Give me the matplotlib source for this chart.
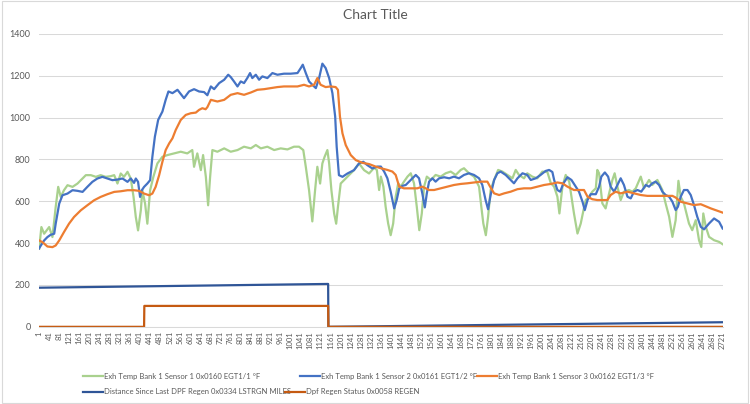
import numpy as np
from matplotlib import pyplot as plt
from matplotlib.lines import Line2D
from matplotlib.patches import Rectangle

plt.rcParams['font.family'] = ['Lato', 'DejaVu Sans']

# sample number (category) and values
egt1_x = [1, 10, 21, 31, 41, 54, 67, 77, 87, 100, 114, 134, 154, 174, 187, 207, 227, 246, 266, 286,
          300, 313, 326, 339, 353, 366, 377, 386, 395, 406, 412, 423, 432, 443, 456, 472, 492, 512, 538, 565,
          591, 611, 618, 631, 645, 654, 665, 674, 682, 691, 711, 738, 764, 791, 817, 844, 864, 884, 910, 937,
          963, 990, 1016, 1036, 1053, 1063, 1076, 1089, 1100, 1109, 1120, 1129, 1138, 1149, 1156, 1165, 1176, 1184, 1191, 1202,
          1215, 1235, 1255, 1275, 1295, 1315, 1335, 1346, 1355, 1362, 1372, 1381, 1391, 1401, 1411, 1421, 1431, 1441, 1454, 1468,
          1481, 1494, 1505, 1515, 1525, 1534, 1545, 1561, 1580, 1600, 1620, 1640, 1660, 1680, 1693, 1713, 1733, 1753, 1762, 1770,
          1780, 1789, 1799, 1813, 1829, 1846, 1866, 1886, 1899, 1912, 1932, 1945, 1965, 1985, 2005, 2025, 2039, 2052, 2065, 2073,
          2085, 2098, 2112, 2121, 2131, 2145, 2158, 2169, 2178, 2191, 2204, 2218, 2224, 2231, 2244, 2257, 2271, 2284, 2293, 2304,
          2317, 2330, 2350, 2364, 2377, 2397, 2410, 2430, 2443, 2463, 2483, 2496, 2510, 2523, 2536, 2547, 2556, 2569, 2589, 2602,
          2616, 2629, 2638, 2646, 2656, 2669, 2689, 2709, 2723]
egt1_y = [373, 477, 445, 461, 477, 429, 573, 669, 621, 653, 677, 669, 685, 709, 725, 725, 717, 725, 717, 720,
          725, 685, 733, 717, 741, 709, 621, 525, 461, 557, 653, 589, 493, 653, 717, 781, 813, 821, 829, 837,
          829, 845, 765, 829, 749, 821, 717, 581, 717, 845, 837, 853, 837, 845, 861, 853, 869, 853, 861, 845,
          853, 848, 861, 861, 845, 765, 653, 504, 653, 765, 685, 781, 813, 845, 781, 653, 541, 493, 573, 685,
          701, 725, 749, 781, 749, 733, 760, 750, 654, 718, 670, 574, 494, 438, 494, 622, 686, 670, 694, 718,
          734, 686, 574, 462, 542, 670, 718, 702, 726, 718, 734, 742, 726, 750, 758, 734, 718, 670, 574, 494,
          438, 526, 654, 702, 750, 742, 726, 710, 750, 726, 710, 734, 718, 710, 742, 740, 686, 670, 622, 542,
          670, 726, 694, 622, 542, 446, 494, 558, 606, 622, 646, 662, 750, 734, 590, 566, 638, 702, 734, 670,
          606, 646, 654, 646, 662, 718, 662, 702, 678, 702, 654, 590, 526, 430, 510, 698, 622, 590, 494, 462,
          510, 414, 382, 542, 478, 430, 414, 406, 395]

egt2_x = [1, 8, 21, 34, 47, 61, 67, 81, 94, 114, 134, 154, 174, 193, 213, 233, 253, 273, 293, 313,
          333, 353, 366, 379, 386, 395, 403, 410, 419, 432, 443, 452, 462, 475, 492, 505, 516, 532, 552, 578,
          598, 618, 638, 658, 671, 685, 698, 718, 738, 754, 764, 777, 791, 804, 817, 830, 841, 850, 864, 877,
          890, 910, 930, 950, 976, 1003, 1030, 1043, 1051, 1063, 1076, 1089, 1103, 1116, 1129, 1142, 1156, 1169, 1180, 1186,
          1195, 1209, 1229, 1255, 1275, 1292, 1308, 1328, 1348, 1362, 1375, 1388, 1401, 1415, 1425, 1435, 1448, 1461, 1481, 1501,
          1514, 1527, 1537, 1545, 1554, 1567, 1580, 1594, 1614, 1634, 1653, 1673, 1693, 1713, 1733, 1753, 1766, 1779, 1789, 1799,
          1813, 1826, 1839, 1859, 1879, 1892, 1906, 1926, 1945, 1959, 1979, 1998, 2018, 2032, 2045, 2052, 2065, 2076, 2089, 2105,
          2121, 2138, 2151, 2165, 2174, 2185, 2198, 2218, 2231, 2240, 2254, 2267, 2277, 2291, 2304, 2317, 2330, 2344, 2357, 2370,
          2384, 2399, 2417, 2430, 2443, 2456, 2470, 2483, 2496, 2510, 2523, 2536, 2545, 2556, 2569, 2583, 2596, 2609, 2622, 2636,
          2649, 2669, 2689, 2709, 2723]
egt2_y = [375, 389, 413, 429, 440, 445, 493, 589, 629, 637, 653, 650, 645, 669, 693, 709, 717, 709, 701, 704,
          709, 693, 709, 688, 709, 693, 621, 653, 669, 685, 701, 813, 909, 989, 1029, 1085, 1125, 1117, 1133, 1093,
          1125, 1136, 1125, 1122, 1107, 1149, 1136, 1165, 1181, 1205, 1194, 1173, 1149, 1173, 1165, 1189, 1213, 1189, 1205, 1181,
          1197, 1189, 1213, 1205, 1210, 1210, 1213, 1237, 1253, 1213, 1173, 1157, 1141, 1189, 1258, 1237, 1189, 1117, 1005, 861,
          725, 717, 733, 749, 781, 789, 773, 757, 766, 766, 742, 710, 646, 566, 606, 662, 674, 678, 702, 726,
          710, 638, 571, 638, 694, 710, 694, 710, 715, 710, 718, 710, 726, 734, 726, 710, 678, 606, 562, 630,
          702, 734, 742, 726, 702, 686, 710, 734, 726, 702, 710, 726, 745, 750, 740, 702, 654, 646, 686, 715,
          702, 670, 646, 598, 558, 606, 634, 634, 670, 718, 738, 718, 670, 646, 678, 710, 678, 622, 614, 646,
          654, 646, 678, 670, 686, 694, 678, 646, 630, 622, 598, 558, 574, 622, 654, 654, 630, 582, 526, 478,
          466, 494, 518, 502, 470]

egt3_x = [1, 14, 34, 54, 67, 81, 100, 120, 140, 167, 193, 220, 246, 273, 300, 326, 353, 379, 399, 419,
          439, 452, 465, 479, 492, 505, 519, 532, 545, 565, 585, 605, 625, 638, 651, 664, 671, 685, 711, 738,
          764, 791, 817, 844, 870, 897, 923, 950, 976, 1003, 1030, 1056, 1076, 1096, 1109, 1122, 1142, 1162, 1182, 1191,
          1199, 1209, 1222, 1242, 1262, 1288, 1315, 1341, 1362, 1388, 1408, 1421, 1435, 1454, 1481, 1507, 1527, 1541, 1554, 1574,
          1600, 1627, 1653, 1680, 1706, 1733, 1760, 1786, 1797, 1813, 1833, 1853, 1879, 1906, 1932, 1959, 1985, 2012, 2039, 2065,
          2085, 2105, 2131, 2158, 2171, 2185, 2204, 2224, 2244, 2264, 2277, 2297, 2317, 2344, 2370, 2397, 2423, 2450, 2476, 2503,
          2523, 2536, 2556, 2583, 2609, 2636, 2656, 2676, 2695, 2723]
egt3_y = [413, 405, 384, 381, 389, 413, 453, 493, 525, 557, 581, 605, 621, 634, 645, 648, 653, 653, 650, 637,
          629, 637, 669, 725, 789, 845, 877, 901, 941, 989, 1013, 1021, 1024, 1037, 1045, 1040, 1050, 1085, 1077, 1085,
          1109, 1117, 1109, 1120, 1133, 1136, 1141, 1146, 1149, 1149, 1149, 1157, 1149, 1157, 1189, 1157, 1146, 1149, 1146, 1133,
          1005, 925, 869, 821, 797, 784, 778, 766, 758, 750, 742, 726, 670, 662, 662, 662, 670, 662, 654, 654,
          662, 670, 678, 683, 686, 690, 694, 694, 670, 638, 630, 638, 646, 658, 662, 662, 670, 678, 683, 690,
          686, 670, 654, 654, 654, 622, 610, 606, 606, 606, 630, 646, 638, 646, 638, 630, 626, 626, 626, 626,
          626, 618, 598, 590, 582, 586, 576, 566, 558, 546]

dist_x = [1, 1152, 1153, 2723]
dist_y = [187, 205, 0, 22]

regen_x = [1, 419, 420, 1152, 1153, 2723]
regen_y = [0, 0, 100, 100, 0, 0]

labels = ["Exh Temp Bank 1 Sensor 1 0x0160 EGT1/1 °F",
          "Exh Temp Bank 1 Sensor 2 0x0161 EGT1/2 °F",
          "Exh Temp Bank 1 Sensor 3 0x0162 EGT1/3 °F",
          "Distance Since Last DPF Regen 0x0334 LSTRGN MILES",
          "Dpf Regen Status 0x0058 REGEN"]
colors = ["#A9D18E", "#4472C4", "#ED7D31", "#2F5597", "#C55A11"]

n_samples = 2724
xtick_pos = list(range(1, n_samples, 40))
ytick_pos = [0, 200, 400, 600, 800, 1000, 1200, 1400]

fig = plt.figure(figsize=(7.5, 4.04), dpi=100)
ax = fig.add_axes([0.052, 0.191, 0.912, 0.725])

series = [(egt1_x, egt1_y), (egt2_x, egt2_y), (egt3_x, egt3_y), (dist_x, dist_y), (regen_x, regen_y)]
for (xs, ys), c, lab in zip(series, colors, labels):
    ax.plot(xs, ys, color=c, linewidth=1.6, label=lab, solid_joinstyle='round')

ax.set_xlim(0.5, n_samples + 0.5)
ax.set_ylim(0, 1400)
ax.set_yticks(ytick_pos)
ax.set_xticks(xtick_pos)
ax.set_xticklabels([str(v) for v in xtick_pos], rotation=90, fontsize=5.5, color="#595959")
ax.tick_params(axis='y', labelsize=6.5, colors="#595959", length=0, pad=6)
ax.tick_params(axis='x', length=0, pad=3)
ax.grid(axis='y', color="#D9D9D9", linewidth=0.75)
ax.set_axisbelow(True)
for s in ['top', 'right', 'left']:
    ax.spines[s].set_visible(False)
ax.spines['bottom'].set_color("#D9D9D9")
ax.spines['bottom'].set_linewidth(0.75)

fig.text(0.5, 0.962, "Chart Title", ha='center', va='center', fontsize=10, color="#595959")

# legend entries placed like excel does (two rows under the chart)
leg_pos = [(0.111, 0.069), (0.400, 0.069), (0.636, 0.069), (0.111, 0.030), (0.380, 0.030)]
for (lx, ly), c, lab in zip(leg_pos, colors, labels):
    h = Line2D([], [], color=c, linewidth=1.6)
    fig.legend([h], [lab], loc='center left', bbox_to_anchor=(lx, ly), frameon=False,
               fontsize=5.5, handlelength=2.6, handletextpad=0.1, borderpad=0, borderaxespad=0,
               labelcolor="#595959")

fig.patches.append(Rectangle((0.002, 0.003), 0.995, 0.994, transform=fig.transFigure,
                             fill=False, edgecolor="#D9D9D9", linewidth=0.8))

fig.savefig("out.png", dpi=100)
